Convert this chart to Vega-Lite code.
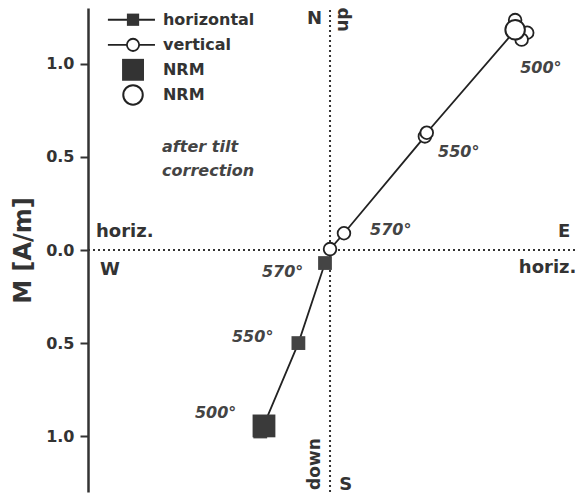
{
  "$schema": "https://vega.github.io/schema/vega-lite/v6.json",
  "width": 490,
  "height": 484,
  "autosize": {"type": "none"},
  "padding": {"left": 88, "top": 8, "right": 0, "bottom": 4},
  "background": "white",
  "config": {"view": {"stroke": null}, "font": "DejaVu Sans"},
  "datasets": {
    "axes0": [
      {"x": 0, "y": -1.3, "x2": 0, "y2": 1.3},
      {"x": -1.301, "y": 0, "x2": 1.333, "y2": 0}
    ],
    "vert": [
      {"step": "origin", "x": 0.0, "y": 0.005, "o": 0},
      {"step": "570", "x": 0.075, "y": 0.09, "o": 1},
      {"step": "550", "x": 0.51, "y": 0.61, "o": 2},
      {"step": "550b", "x": 0.52, "y": 0.63, "o": 3},
      {"step": "500", "x": 0.995, "y": 1.18, "o": 4},
      {"step": "500b", "x": 0.995, "y": 1.235, "o": 5},
      {"step": "500c", "x": 1.06, "y": 1.167, "o": 6},
      {"step": "500d", "x": 1.03, "y": 1.13, "o": 7}
    ],
    "horiz": [
      {"step": "570", "x": -0.027, "y": -0.07, "o": 1},
      {"step": "550", "x": -0.17, "y": -0.5, "o": 2},
      {"step": "500", "x": -0.36, "y": -0.95, "o": 3},
      {"step": "500b", "x": -0.375, "y": -0.975, "o": 4},
      {"step": "500c", "x": -0.345, "y": -0.935, "o": 5}
    ],
    "nrm": [
      {"comp": "horizontal", "x": -0.355, "y": -0.945},
      {"comp": "vertical", "x": 0.995, "y": 1.183}
    ],
    "legline": [
      {"s": "horizontal", "x": -1.194, "y": 1.237},
      {"s": "horizontal", "x": -0.941, "y": 1.237},
      {"s": "vertical", "x": -1.194, "y": 1.102},
      {"s": "vertical", "x": -0.941, "y": 1.102}
    ],
    "legsym": [
      {"s": "horizontal", "x": -1.059, "y": 1.237},
      {"s": "vertical", "x": -1.059, "y": 1.102},
      {"s": "NRM horizontal", "x": -1.059, "y": 0.968},
      {"s": "NRM vertical", "x": -1.059, "y": 0.833}
    ],
    "boldlabels": [
      {"t": "horizontal", "x": -0.898, "y": 1.237, "sz": "s"},
      {"t": "vertical", "x": -0.898, "y": 1.102, "sz": "s"},
      {"t": "NRM", "x": -0.898, "y": 0.968, "sz": "s"},
      {"t": "NRM", "x": -0.898, "y": 0.833, "sz": "s"},
      {"t": "horiz.", "x": -1.258, "y": 0.097, "sz": "l"},
      {"t": "W", "x": -1.237, "y": -0.108, "sz": "l"},
      {"t": "E", "x": 1.226, "y": 0.097, "sz": "l"},
      {"t": "horiz.", "x": 1.015, "y": -0.097, "sz": "l"},
      {"t": "N", "x": -0.124, "y": 1.24, "sz": "l"},
      {"t": "S", "x": 0.05, "y": -1.265, "sz": "l"}
    ],
    "italiclabels": [
      {"t": "after tilt", "x": -0.903, "y": 0.554},
      {"t": "correction", "x": -0.903, "y": 0.425},
      {"t": "500°", "x": 1.022, "y": 0.978},
      {"t": "550°", "x": 0.581, "y": 0.527},
      {"t": "570°", "x": 0.215, "y": 0.108},
      {"t": "570°", "x": -0.366, "y": -0.118},
      {"t": "550°", "x": -0.527, "y": -0.468},
      {"t": "500°", "x": -0.726, "y": -0.876}
    ],
    "rotlabels": [
      {"t": "up", "x": 0.072, "y": 1.237},
      {"t": "down", "x": -0.083, "y": -1.15}
    ]
  },
  "encoding": {
    "x": {"field": "x", "type": "quantitative", "axis": null,
          "scale": {"domain": [-1.301, 1.333], "nice": false, "zero": false}},
    "y": {"field": "y", "type": "quantitative",
          "scale": {"domain": [-1.3, 1.3], "nice": false, "zero": false},
          "axis": {
            "title": "M [A/m]", "titleFontSize": 24, "titleFontWeight": "bold",
            "titleColor": "#333", "titlePadding": 10,
            "values": [-1, -0.5, 0, 0.5, 1],
            "labelExpr": "format(abs(datum.value), '.1f')",
            "labelFontSize": 16, "labelFontWeight": "bold", "labelColor": "#333",
            "labelPadding": 6,
            "grid": false, "domainColor": "#333", "domainWidth": 2.5,
            "tickColor": "#333", "tickWidth": 2, "tickSize": 8
          }}
  },
  "layer": [
    {
      "data": {"name": "axes0"},
      "mark": {"type": "rule", "strokeDash": [2, 3], "strokeWidth": 2, "color": "#333"},
      "encoding": {"x2": {"field": "x2"}, "y2": {"field": "y2"}}
    },
    {
      "data": {"name": "vert"},
      "transform": [{"filter": "datum.o <= 4"}],
      "mark": {"type": "line", "color": "#222", "strokeWidth": 1.8},
      "encoding": {"order": {"field": "o"}}
    },
    {
      "data": {"name": "horiz"},
      "transform": [{"filter": "datum.o <= 3"}],
      "mark": {"type": "line", "color": "#222", "strokeWidth": 1.8},
      "encoding": {"order": {"field": "o"}}
    },
    {
      "data": {"name": "legline"},
      "mark": {"type": "line", "color": "#222", "strokeWidth": 1.8},
      "encoding": {"detail": {"field": "s"}}
    },
    {
      "data": {"name": "horiz"},
      "mark": {"type": "point", "shape": "square", "filled": true, "color": "#444", "size": 190, "opacity": 1}
    },
    {
      "data": {"name": "vert"},
      "mark": {"type": "point", "shape": "circle", "filled": true, "fill": "white", "stroke": "#222", "strokeWidth": 1.8, "size": 160, "opacity": 1}
    },
    {
      "data": {"name": "nrm"},
      "transform": [{"filter": "datum.comp == 'horizontal'"}],
      "mark": {"type": "point", "shape": "square", "filled": true, "color": "#3a3a3a", "size": 520, "opacity": 1}
    },
    {
      "data": {"name": "nrm"},
      "transform": [{"filter": "datum.comp == 'vertical'"}],
      "mark": {"type": "point", "shape": "circle", "filled": true, "fill": "white", "stroke": "#222", "strokeWidth": 2, "size": 380, "opacity": 1}
    },
    {
      "data": {"name": "legsym"},
      "transform": [{"filter": "datum.s == 'horizontal'"}],
      "mark": {"type": "point", "shape": "square", "filled": true, "color": "#333", "size": 150, "opacity": 1}
    },
    {
      "data": {"name": "legsym"},
      "transform": [{"filter": "datum.s == 'vertical'"}],
      "mark": {"type": "point", "shape": "circle", "filled": true, "fill": "white", "stroke": "#222", "strokeWidth": 1.8, "size": 150, "opacity": 1}
    },
    {
      "data": {"name": "legsym"},
      "transform": [{"filter": "datum.s == 'NRM horizontal'"}],
      "mark": {"type": "point", "shape": "square", "filled": true, "color": "#333", "size": 480, "opacity": 1}
    },
    {
      "data": {"name": "legsym"},
      "transform": [{"filter": "datum.s == 'NRM vertical'"}],
      "mark": {"type": "point", "shape": "circle", "filled": true, "fill": "white", "stroke": "#222", "strokeWidth": 2, "size": 380, "opacity": 1}
    },
    {
      "data": {"name": "boldlabels"},
      "transform": [{"filter": "datum.sz == 's'"}],
      "mark": {"type": "text", "align": "left", "baseline": "middle", "fontSize": 16, "fontWeight": "bold", "color": "#333"},
      "encoding": {"text": {"field": "t"}}
    },
    {
      "data": {"name": "boldlabels"},
      "transform": [{"filter": "datum.sz == 'l'"}],
      "mark": {"type": "text", "align": "left", "baseline": "middle", "fontSize": 18, "fontWeight": "bold", "color": "#333"},
      "encoding": {"text": {"field": "t"}}
    },
    {
      "data": {"name": "italiclabels"},
      "mark": {"type": "text", "align": "left", "baseline": "middle", "fontSize": 16, "fontWeight": "bold", "fontStyle": "italic", "color": "#444"},
      "encoding": {"text": {"field": "t"}}
    },
    {
      "data": {"name": "rotlabels"},
      "mark": {"type": "text", "align": "center", "baseline": "middle", "angle": 270, "fontSize": 17, "fontWeight": "bold", "color": "#333"},
      "encoding": {"text": {"field": "t"}}
    }
  ]
}
